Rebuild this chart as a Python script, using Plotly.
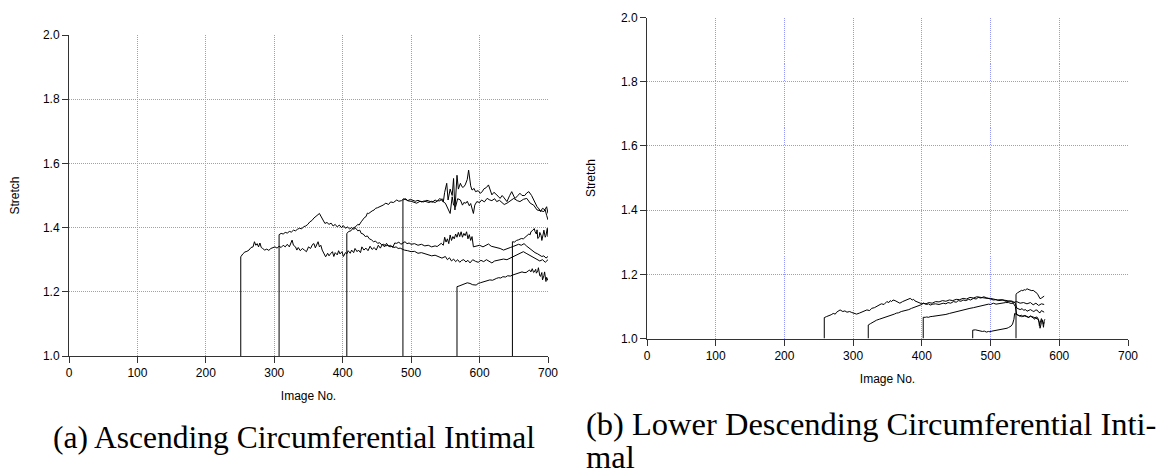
import plotly.graph_objects as go

# ---------------- Panel (a): Ascending Circumferential Intimal ----------------
a1_x = [251, 251, 254, 257, 260, 263, 266, 269, 271, 273, 275, 277, 279, 281, 283, 286, 289, 292, 295, 298,
        301, 304, 307, 310, 313, 316, 319, 322, 324, 326, 328, 331, 333, 335, 338, 341, 344, 347, 350, 353,
        356, 358, 360, 362, 364, 366, 368, 370, 372, 375, 378, 380, 382, 385, 387, 389, 392, 394, 396, 399,
        401, 404, 406, 408, 411, 413, 416, 418, 421, 423, 426, 428, 431, 434, 437, 440, 443, 446, 449, 452,
        455, 458, 461, 464, 467, 470, 473, 476, 479, 482, 485, 488, 491, 494, 497, 500, 505, 510, 515, 520,
        525, 530, 535, 538, 541, 544, 547, 549, 551, 553, 555, 557, 559, 561, 563, 565, 567, 569, 571, 573,
        575, 577, 579, 581, 583, 585, 587, 589, 591, 595, 600, 605, 610, 613, 617, 621, 625, 630, 635, 640,
        645, 650, 653, 657, 661, 665, 669, 673, 677, 681, 685, 688, 691, 694, 697, 700]
a1_y = [1.0, 1.309, 1.318, 1.324, 1.326, 1.33, 1.338, 1.34, 1.356, 1.345, 1.35, 1.34, 1.352, 1.338, 1.335, 1.33, 1.333, 1.329, 1.335, 1.337,
        1.34, 1.336, 1.342, 1.338, 1.345, 1.34, 1.348, 1.34, 1.352, 1.361, 1.345, 1.34, 1.33, 1.338, 1.328, 1.335, 1.33, 1.325, 1.34, 1.335,
        1.348, 1.35, 1.337, 1.345, 1.356, 1.34, 1.345, 1.33, 1.32, 1.309, 1.32, 1.312, 1.318, 1.325, 1.31, 1.322, 1.315, 1.328, 1.318, 1.325,
        1.31, 1.322, 1.318, 1.328, 1.32, 1.33, 1.322, 1.335, 1.325, 1.33, 1.322, 1.34, 1.33, 1.336, 1.328, 1.342, 1.332, 1.338, 1.33, 1.345,
        1.336, 1.348, 1.34, 1.351, 1.342, 1.345, 1.338, 1.352, 1.351, 1.355, 1.348, 1.352, 1.356, 1.35, 1.352, 1.348, 1.35, 1.345, 1.348, 1.343,
        1.345, 1.34, 1.343, 1.341, 1.347, 1.351, 1.345, 1.37, 1.355, 1.365, 1.35, 1.377, 1.36, 1.372, 1.365, 1.38, 1.37, 1.385, 1.372, 1.387,
        1.37, 1.382, 1.375, 1.387, 1.365, 1.378, 1.36, 1.372, 1.34, 1.342, 1.345, 1.34, 1.345, 1.349, 1.342, 1.34, 1.338, 1.335, 1.33, 1.335,
        1.338, 1.342, 1.345, 1.348, 1.345, 1.35, 1.342, 1.335, 1.33, 1.322, 1.318, 1.315, 1.31, 1.312, 1.305, 1.31]

a2_x = [307, 307, 310, 313, 316, 319, 322, 325, 328, 331, 334, 337, 340, 343, 346, 349, 352, 355, 358, 361,
        364, 366, 368, 370, 372, 374, 377, 380, 383, 386, 389, 392, 395, 398, 401, 404, 407, 410, 413, 416,
        419, 422, 425, 427, 430, 433, 436, 439, 442, 445, 448, 451, 454, 457, 460, 463, 466, 469, 472, 475,
        478, 481, 484, 490, 495, 500, 505, 510, 515, 520, 525, 530, 535, 540, 545, 550, 553, 556, 559, 562,
        565, 568, 571, 574, 577, 580, 583, 586, 590, 594, 598, 602, 606, 610, 614, 618, 622, 626, 630, 635,
        640, 645, 650, 655, 660, 664, 668, 672, 676, 680, 684, 688, 692, 696, 700]
a2_y = [1.0, 1.378, 1.382, 1.38, 1.385, 1.383, 1.388, 1.386, 1.392, 1.39, 1.395, 1.398, 1.396, 1.403, 1.405, 1.41, 1.418, 1.422, 1.43, 1.435,
        1.439, 1.444, 1.436, 1.428, 1.418, 1.413, 1.416, 1.41, 1.414, 1.405, 1.41, 1.402, 1.408, 1.40, 1.406, 1.398, 1.402, 1.396, 1.40, 1.395,
        1.398, 1.39, 1.392, 1.382, 1.38, 1.372, 1.374, 1.365, 1.362, 1.356, 1.358, 1.351, 1.353, 1.346, 1.348, 1.343, 1.345, 1.34, 1.342, 1.338,
        1.34, 1.335, 1.336, 1.33, 1.328, 1.325, 1.326, 1.32, 1.322, 1.318, 1.316, 1.312, 1.314, 1.31, 1.305, 1.31, 1.30, 1.306, 1.296, 1.302,
        1.294, 1.30, 1.292, 1.298, 1.30, 1.293, 1.298, 1.29, 1.30, 1.295, 1.292, 1.298, 1.294, 1.30, 1.296, 1.29, 1.296, 1.298, 1.30, 1.302,
        1.30, 1.305, 1.31, 1.315, 1.32, 1.325, 1.32, 1.315, 1.31, 1.305, 1.30, 1.296, 1.30, 1.292, 1.30]

a3_x = [406, 406, 409, 412, 415, 419, 422, 424, 427, 429, 432, 434, 436, 438, 441, 443, 446, 448, 451, 455,
        459, 463, 467, 470, 474, 479, 482, 486, 489, 493, 496, 500, 504, 508, 513, 518, 523, 528, 531, 535,
        538, 542, 545, 547, 550, 553, 557, 560, 562, 565, 568, 572, 575, 577, 580, 582, 585, 587, 589, 591,
        593, 596, 600, 603, 607, 611, 615, 618, 622, 625, 629, 632, 636, 640, 645, 650, 655, 659, 664, 669,
        674, 679, 684, 689, 694, 698, 700]
a3_y = [1.0, 1.382, 1.388, 1.39, 1.398, 1.403, 1.41, 1.408, 1.418, 1.425, 1.432, 1.434, 1.445, 1.444, 1.45, 1.452, 1.455, 1.46, 1.462, 1.465,
        1.47, 1.476, 1.472, 1.48, 1.478, 1.486, 1.482, 1.484, 1.49, 1.486, 1.483, 1.482, 1.478, 1.476, 1.482, 1.48, 1.485, 1.481, 1.479, 1.486,
        1.482, 1.491, 1.484, 1.48, 1.476, 1.46, 1.444, 1.496, 1.47, 1.465, 1.49, 1.486, 1.47, 1.478, 1.476, 1.482, 1.468, 1.475, 1.455, 1.444,
        1.47, 1.481, 1.478, 1.486, 1.48, 1.491, 1.486, 1.484, 1.49, 1.481, 1.485, 1.478, 1.472, 1.476, 1.485, 1.491, 1.484, 1.481, 1.488, 1.491,
        1.476, 1.47, 1.455, 1.452, 1.45, 1.465, 1.444]

a4_x = [488, 488, 492, 495, 499, 502, 506, 510, 515, 519, 522, 526, 530, 535, 539, 542, 545, 547, 549, 552,
        554, 557, 560, 562, 564, 567, 569, 572, 574, 576, 579, 582, 584, 587, 589, 592, 594, 598, 601, 604,
        606, 610, 613, 616, 618, 621, 624, 627, 630, 633, 635, 638, 640, 644, 647, 650, 652, 656, 659, 662,
        666, 669, 672, 676, 679, 682, 684, 687, 689, 692, 696, 698, 700]
a4_y = [1.0, 1.486, 1.49, 1.484, 1.488, 1.486, 1.482, 1.485, 1.48, 1.483, 1.481, 1.478, 1.482, 1.478, 1.484, 1.483, 1.49, 1.48, 1.51, 1.538,
        1.486, 1.52, 1.50, 1.553, 1.455, 1.563, 1.52, 1.538, 1.528, 1.525, 1.533, 1.55, 1.579, 1.53, 1.517, 1.522, 1.512, 1.515, 1.507, 1.512,
        1.52, 1.525, 1.533, 1.51, 1.502, 1.51, 1.505, 1.498, 1.491, 1.5, 1.495, 1.488, 1.481, 1.50, 1.512, 1.498, 1.491, 1.50, 1.507, 1.50,
        1.50, 1.508, 1.512, 1.5, 1.486, 1.475, 1.465, 1.458, 1.45, 1.46, 1.455, 1.438, 1.424]

a5_x = [567, 567, 570, 572, 575, 578, 582, 586, 590, 595, 598, 601, 605, 608, 612, 615, 619, 622, 625, 628,
        631, 634, 638, 641, 645, 648, 652, 655, 659, 662, 665, 668, 671, 673, 675, 677, 679, 680, 682, 683,
        685, 686, 688, 689, 691, 692, 694, 695, 697, 698, 700]
a5_y = [1.0, 1.216, 1.218, 1.22, 1.222, 1.224, 1.228, 1.226, 1.222, 1.221, 1.226, 1.228, 1.23, 1.232, 1.234, 1.237, 1.236, 1.24, 1.242, 1.244,
        1.243, 1.247, 1.246, 1.25, 1.249, 1.252, 1.255, 1.256, 1.258, 1.262, 1.26, 1.26, 1.265, 1.268, 1.262, 1.272, 1.26, 1.262, 1.27, 1.258,
        1.265, 1.275, 1.25, 1.248, 1.26, 1.237, 1.25, 1.262, 1.232, 1.245, 1.235]

a6_x = [648, 648, 651, 654, 657, 661, 664, 667, 670, 672, 674, 675, 677, 680, 681, 683, 684, 685, 687, 688,
        690, 691, 693, 694, 696, 697, 699, 700]
a6_y = [1.0, 1.356, 1.355, 1.36, 1.362, 1.366, 1.365, 1.37, 1.376, 1.38, 1.378, 1.387, 1.39, 1.397, 1.388, 1.38, 1.393, 1.366, 1.37, 1.385,
        1.375, 1.36, 1.38, 1.392, 1.37, 1.375, 1.398, 1.371]

# ---------------- Panel (b): Lower Descending Circumferential Intimal ----------------
b1_x = [258, 258, 261, 264, 268, 271, 274, 276, 279, 281, 285, 288, 291, 295, 298, 300, 303, 305, 309, 312,
        316, 320, 324, 327, 331, 334, 338, 341, 345, 349, 352, 354, 356, 358, 361, 363, 366, 368, 372, 375,
        379, 383, 386, 388, 390, 392, 395, 397, 400, 402, 405, 407, 410, 412, 416, 420, 425, 431, 435, 438,
        442, 446, 450, 453, 457, 460, 464, 468, 471, 475, 479, 482, 486, 490, 494, 497, 501, 504, 508, 512,
        518, 523, 528, 533, 538, 543, 548, 553, 558, 562, 566, 570, 574, 578]
b1_y = [1.0, 1.065, 1.068, 1.07, 1.074, 1.078, 1.076, 1.082, 1.085, 1.089, 1.084, 1.086, 1.082, 1.084, 1.081, 1.08, 1.078, 1.076, 1.079, 1.082,
        1.085, 1.089, 1.087, 1.094, 1.096, 1.099, 1.104, 1.108, 1.106, 1.115, 1.112, 1.118, 1.115, 1.12, 1.118, 1.116, 1.112, 1.11, 1.115, 1.118,
        1.121, 1.125, 1.12, 1.122, 1.117, 1.115, 1.113, 1.112, 1.108, 1.11, 1.107, 1.106, 1.108, 1.104, 1.107, 1.108, 1.106, 1.11, 1.108, 1.112,
        1.11, 1.115, 1.113, 1.118, 1.116, 1.12, 1.118, 1.122, 1.12, 1.125, 1.123, 1.128, 1.126, 1.13, 1.127, 1.124, 1.122, 1.12, 1.121, 1.118,
        1.12, 1.115, 1.117, 1.112, 1.115, 1.11, 1.112, 1.108, 1.112, 1.105, 1.11, 1.103, 1.108, 1.106]

b2_x = [322, 322, 325, 328, 331, 334, 338, 341, 345, 349, 352, 356, 360, 363, 366, 370, 374, 378, 381, 385,
        388, 392, 395, 397, 400, 402, 406, 410, 415, 420, 425, 430, 435, 440, 445, 450, 455, 460, 465, 470,
        475, 480, 485, 490, 495, 500, 505, 510, 515, 520, 524, 527, 530, 533, 536, 538, 541, 543, 546, 548,
        551, 553, 556, 558, 561, 563, 566, 568, 570, 572, 574, 576, 578]
b2_y = [1.0, 1.042, 1.046, 1.05, 1.054, 1.057, 1.06, 1.062, 1.065, 1.068, 1.07, 1.073, 1.076, 1.079, 1.08, 1.084, 1.086, 1.089, 1.09, 1.094,
        1.096, 1.099, 1.101, 1.104, 1.106, 1.11, 1.108, 1.112, 1.11, 1.115, 1.114, 1.118, 1.116, 1.12, 1.118, 1.122, 1.121, 1.125, 1.123, 1.128,
        1.126, 1.13, 1.128, 1.127, 1.125, 1.125, 1.122, 1.12, 1.121, 1.12, 1.118, 1.116, 1.117, 1.115, 1.11, 1.095, 1.092, 1.09, 1.093, 1.088,
        1.09, 1.085, 1.088, 1.09, 1.086, 1.084, 1.089, 1.088, 1.082, 1.08, 1.087, 1.085, 1.082]

b3_x = [402, 402, 405, 407, 410, 412, 416, 420, 425, 431, 435, 440, 445, 451, 455, 460, 465, 470, 475, 480,
        485, 490, 494, 497, 500, 504, 508, 511, 515, 518, 522, 526, 530, 533, 536, 538, 540, 542, 545, 547,
        550, 552, 554, 556, 558, 560, 562, 564, 566, 568, 570, 571, 573, 574, 576, 577, 578, 579]
b3_y = [1.0, 1.066, 1.066, 1.067, 1.066, 1.068, 1.069, 1.07, 1.071, 1.073, 1.075, 1.078, 1.081, 1.084, 1.086, 1.089, 1.091, 1.094, 1.096, 1.099,
        1.1, 1.104, 1.105, 1.107, 1.106, 1.11, 1.107, 1.108, 1.111, 1.11, 1.112, 1.112, 1.109, 1.11, 1.1, 1.075, 1.072, 1.07, 1.073, 1.068,
        1.072, 1.07, 1.066, 1.065, 1.07, 1.068, 1.064, 1.06, 1.067, 1.066, 1.058, 1.04, 1.062, 1.062, 1.05, 1.035, 1.055, 1.06]

b4_x = [474, 474, 478, 481, 485, 488, 491, 494, 497, 499, 502, 505, 508, 512, 515, 519, 522, 524, 526, 528,
        530, 532, 534, 535, 538, 540, 543, 545, 548, 550, 553, 555, 558, 560, 563, 565, 567, 569, 571, 572,
        574, 575, 577, 578]
b4_y = [1.0, 1.026, 1.027, 1.025, 1.024, 1.022, 1.023, 1.02, 1.022, 1.021, 1.023, 1.024, 1.025, 1.026, 1.027, 1.028, 1.03, 1.032, 1.034, 1.037,
        1.039, 1.045, 1.06, 1.078, 1.074, 1.072, 1.07, 1.068, 1.071, 1.07, 1.067, 1.066, 1.07, 1.069, 1.066, 1.064, 1.062, 1.06, 1.05, 1.032,
        1.05, 1.058, 1.045, 1.05]

b5_x = [537, 537, 539, 541, 543, 545, 547, 549, 551, 553, 556, 558, 560, 562, 564, 565, 567, 568, 569, 570,
        571, 572, 574, 575, 577, 578]
b5_y = [1.0, 1.138, 1.142, 1.145, 1.148, 1.15, 1.149, 1.152, 1.151, 1.155, 1.152, 1.15, 1.149, 1.15, 1.147, 1.145, 1.143, 1.14, 1.136, 1.132,
        1.128, 1.124, 1.126, 1.128, 1.13, 1.132]

# ---------------- Ticks and labels ----------------
x_ticks = [0, 100, 200, 300, 400, 500, 600, 700]
y_ticks = [1.0, 1.2, 1.4, 1.6, 1.8, 2.0]
y_tick_text = ["1.0", "1.2", "1.4", "1.6", "1.8", "2.0"]
x_title = "Image No."
y_title = "Stretch"
caption_a = "(a) Ascending Circumferential Intimal"
caption_b_line1 = "(b) Lower Descending Circumferential Inti-"
caption_b_line2 = "mal"

# The page body adds an 8px offset; lay the figure out in page pixels minus that offset.
OFF = 8
W, H = 1169 - OFF, 476 - OFF


def px_x(p):
    return (p - OFF) / W


def px_y(p):
    return 1 - (p - OFF) / H


fig = go.Figure()

line_style = dict(color="black", width=1)
for xs, ys in [(a1_x, a1_y), (a2_x, a2_y), (a3_x, a3_y), (a4_x, a4_y), (a5_x, a5_y), (a6_x, a6_y)]:
    fig.add_trace(go.Scatter(x=xs, y=ys, mode="lines", line=line_style, xaxis="x", yaxis="y",
                             showlegend=False, hoverinfo="skip"))
for xs, ys in [(b1_x, b1_y), (b2_x, b2_y), (b3_x, b3_y), (b4_x, b4_y), (b5_x, b5_y)]:
    fig.add_trace(go.Scatter(x=xs, y=ys, mode="lines", line=line_style, xaxis="x2", yaxis="y2",
                             showlegend=False, hoverinfo="skip"))

tick_font = dict(family="Liberation Sans, Arial, sans-serif", size=12, color="black")
grid_color = "rgb(150,150,255)"


def xaxis_style(domain, anchor):
    return dict(domain=domain, anchor=anchor, range=[0, 700], tickvals=x_ticks,
                showline=True, linecolor="#333", linewidth=1, ticks="outside", ticklen=6,
                tickcolor="#333", tickfont=tick_font, showgrid=True, gridcolor=grid_color,
                griddash="1px,1px", gridwidth=1, zeroline=False, mirror=False, automargin=False,
                title=dict(text=x_title, font=tick_font, standoff=12))


def yaxis_style(domain, anchor):
    return dict(domain=domain, anchor=anchor, range=[1.0, 2.0], tickvals=y_ticks, ticktext=y_tick_text,
                showline=True, linecolor="#333", linewidth=1, ticks="outside", ticklen=6,
                tickcolor="#333", tickfont=tick_font, showgrid=True, gridcolor=grid_color,
                griddash="1px,1px", gridwidth=1, zeroline=False, mirror=False, automargin=False,
                title=dict(text=y_title, font=tick_font, standoff=22))


fig.update_layout(
    width=W, height=H,
    margin=dict(l=0, r=0, t=0, b=0),
    paper_bgcolor="white", plot_bgcolor="white",
    xaxis=xaxis_style([px_x(69), px_x(548)], "y"),
    yaxis=yaxis_style([px_y(356), px_y(35)], "x"),
    xaxis2=xaxis_style([px_x(647), px_x(1128)], "y2"),
    yaxis2=yaxis_style([px_y(338.5), px_y(17.5)], "x2"),
)

cap_font_a = dict(family="Liberation Serif, DejaVu Serif, serif", size=31.5, color="black")
cap_font_b = dict(family="Liberation Serif, DejaVu Serif, serif", size=32.5, color="black")
fig.add_annotation(text=caption_a, xref="paper", yref="paper", x=px_x(293.5), y=px_y(437),
                   xanchor="center", yanchor="middle", showarrow=False, font=cap_font_a)
fig.add_annotation(text=caption_b_line1, xref="paper", yref="paper", x=px_x(584), y=px_y(424),
                   xanchor="left", yanchor="middle", showarrow=False, font=cap_font_b)
fig.add_annotation(text=caption_b_line2, xref="paper", yref="paper", x=px_x(584), y=px_y(457),
                   xanchor="left", yanchor="middle", showarrow=False, font=cap_font_b)

fig.write_html("out.html")
